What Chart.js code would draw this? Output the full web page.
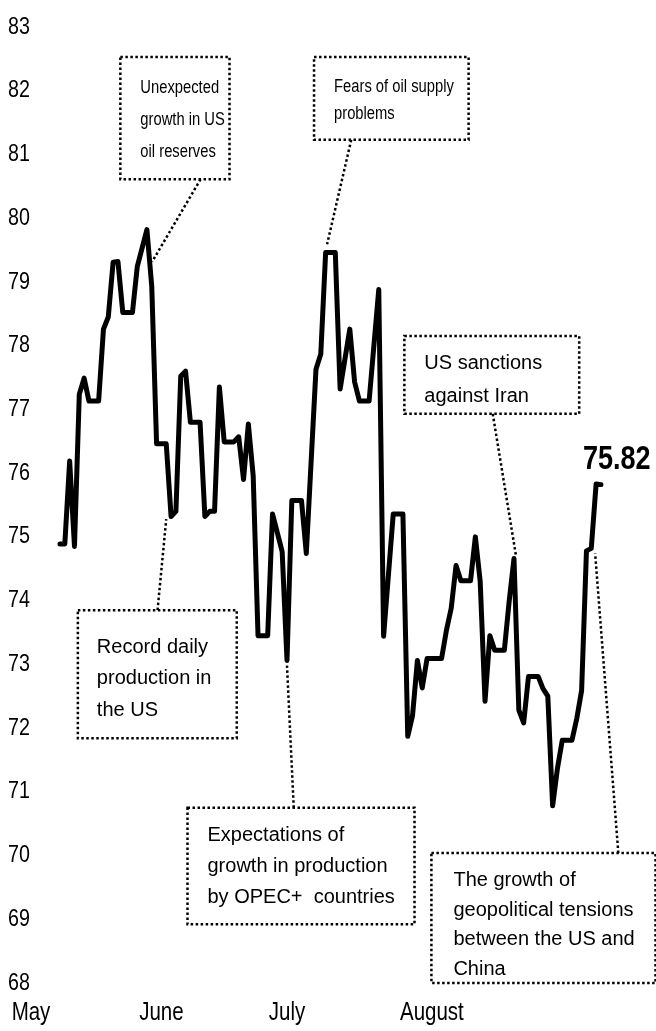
<!DOCTYPE html>
<html>
<head>
  <title>Brent crude, May - August</title>
  <script src="https://cdn.jsdelivr.net/npm/chart.js"></script>
  <style>
    html, body { margin: 0; padding: 0; background: #fff; }
  </style>
</head>
<body>
  <canvas id="oilChart" width="656" height="1031"></canvas>

  <script>
    // day offsets from the first point, and the price on that day (vertices of the line)
    var days = [0, 1, 2, 3, 4, 5, 6, 8, 9, 10, 11, 12, 13, 15, 16, 18, 19, 20, 22, 23, 24, 25, 26, 27, 29,
      30, 31, 32, 33, 34, 36, 37, 38, 39, 40, 41, 43, 44, 46, 47, 48, 50, 51, 53, 54, 55, 57, 58, 60,
      61, 62, 64, 66, 67, 69, 71, 72, 73, 74, 75, 76, 79, 80, 81, 82, 83, 85, 86, 87, 88, 89, 90, 92,
      93, 94, 95, 96, 97, 99, 100, 101, 102, 103, 104, 106, 107, 108, 109, 110, 111, 112];
    var prices = [74.89, 74.89, 76.19, 74.85, 77.24, 77.49, 77.13, 77.13, 78.26, 78.45, 79.31, 79.32, 78.52, 78.52, 79.24, 79.82, 78.93, 76.46, 76.46, 75.32, 75.40, 77.52, 77.60, 76.80, 76.80,
      75.32, 75.40, 75.40, 77.35, 76.49, 76.49, 76.57, 75.90, 76.77, 75.96, 73.45, 73.45, 75.36, 74.77, 73.06, 75.57, 75.57, 74.74, 77.63, 77.87, 79.46, 79.46, 77.32, 78.26,
      77.43, 77.13, 77.13, 78.88, 73.44, 75.36, 75.36, 71.87, 72.20, 73.06, 72.63, 73.09, 73.09, 73.53, 73.88, 74.55, 74.31, 74.31, 75.00, 74.30, 72.42, 73.45, 73.22, 73.22,
      73.99, 74.66, 72.28, 72.08, 72.81, 72.81, 72.62, 72.50, 70.78, 71.37, 71.81, 71.81, 72.15, 72.59, 74.78, 74.82, 75.83, 75.82];

    var monthLabels = ["May", "June", "July", "August"];
    var monthTickDays = [-6, 21, 47, 77];
    var lastLabel = "75.82";

    var FONT = '"Liberation Sans", Arial, sans-serif';
    var NARROW = 0.82; // squeeze text like Arial Narrow

    // text boxes: box and leader given in chart units (day, price)
    var notes = [
      { lines: ["Unexpected", "growth in US", "oil reserves"], narrow: true, size: 18,
        box: [12.5, 82.53, 35.1, 80.61], from: [29.1, 80.61], to: [19.1, 79.32], padX: 20, padTop: 31, lh: 32 },
      { lines: ["Fears of oil supply", "problems"], narrow: true, size: 18,
        box: [52.6, 82.53, 84.6, 81.23], from: [60.3, 81.23], to: [55.3, 79.59], padX: 20, padTop: 30, lh: 27 },
      { lines: ["US sanctions", "against Iran"], narrow: false, size: 20,
        box: [71.3, 78.15, 107.5, 76.93], from: [89.6, 76.93], to: [94.4, 74.71], padX: 20, padTop: 27, lh: 33 },
      { lines: ["Record daily", "production in", "the US"], narrow: false, size: 20,
        box: [3.7, 73.85, 36.6, 71.84], from: [20.2, 73.85], to: [22.0, 75.28], padX: 19, padTop: 37, lh: 31.5 },
      { lines: ["Expectations of", "growth in production", "by OPEC+  countries"], narrow: false, size: 20,
        box: [26.4, 70.75, 73.4, 68.92], from: [48.4, 70.75], to: [47.0, 72.98], padX: 20, padTop: 28, lh: 31 },
      { lines: ["The growth of", "geopolitical tensions", "between the US and", "China"], narrow: false, size: 20,
        box: [76.9, 70.04, 123.3, 68.0], from: [115.6, 70.04], to: [110.8, 74.74], padX: 22, padTop: 28, lh: 29.5 }
    ];

    // every fillText on this chart is squeezed horizontally around its anchor
    var narrowPlugin = {
      id: "narrow",
      beforeInit: function(chart) {
        var ctx = chart.ctx;
        var orig = ctx.fillText;
        ctx.plainFillText = orig;
        ctx.fillText = function(t, x, y) {
          this.save();
          this.translate(x, y);
          this.scale(NARROW, 1);
          orig.call(this, t, 0, 0);
          this.restore();
        };
      }
    };

    var notesPlugin = {
      id: "notes",
      afterDatasetsDraw: function(chart) {
        var ctx = chart.ctx;
        var xs = chart.scales.x, ys = chart.scales.y;
        ctx.save();
        ctx.strokeStyle = "#000";
        ctx.lineWidth = 2.5;
        ctx.setLineDash([2.5, 2.5]);
        notes.forEach(function(n) {
          var l = xs.getPixelForValue(n.box[0]), t = ys.getPixelForValue(n.box[1]);
          var r = xs.getPixelForValue(n.box[2]), b = ys.getPixelForValue(n.box[3]);
          ctx.strokeRect(l, t, r - l, b - t);
          ctx.beginPath();
          ctx.moveTo(xs.getPixelForValue(n.from[0]), ys.getPixelForValue(n.from[1]));
          ctx.lineTo(xs.getPixelForValue(n.to[0]), ys.getPixelForValue(n.to[1]));
          ctx.stroke();
          ctx.fillStyle = "#000";
          ctx.font = n.size + "px " + FONT;
          ctx.textBaseline = "middle";
          ctx.textAlign = "left";
          n.lines.forEach(function(s, i) {
            var y = t + n.padTop + i * n.lh;
            if (n.narrow) ctx.fillText(s, l + n.padX, y);
            else ctx.plainFillText(s, l + n.padX, y);
          });
        });
        ctx.setLineDash([]);
        // value of the last point
        var lx = xs.getPixelForValue(days[days.length - 1]);
        var ly = ys.getPixelForValue(prices[prices.length - 1]);
        ctx.font = "bold 33px " + FONT;
        ctx.textAlign = "left";
        ctx.textBaseline = "alphabetic";
        ctx.fillText(lastLabel, lx - 18, ly - 16);
        ctx.restore();
      }
    };

    var oilChart = new Chart("oilChart", {
      type: "line",
      data: {
        datasets: [{
          data: days.map(function(d, i) { return { x: d, y: prices[i] }; }),
          borderColor: "#000",
          borderWidth: 5,
          borderJoinStyle: "round",
          borderCapStyle: "round",
          pointRadius: 0,
          tension: 0,
          fill: false
        }]
      },
      options: {
        responsive: false,
        animation: false,
        events: [],
        layout: { padding: { left: 0, right: 0, top: 27, bottom: 0 } },
        plugins: { legend: { display: false }, tooltip: { enabled: false } },
        scales: {
          x: {
            type: "linear",
            min: -12.42,
            max: 123.4,
            grid: { display: false, drawTicks: true, tickLength: 12 },
            border: { display: false },
            afterBuildTicks: function(scale) {
              scale.ticks = monthTickDays.map(function(d) { return { value: d }; });
            },
            afterFit: function(scale) {
              scale.paddingLeft = 0;
              scale.paddingRight = 0;
            },
            ticks: {
              padding: 2,
              maxRotation: 0,
              autoSkip: false,
              color: "#000",
              font: { family: FONT, size: 25, lineHeight: 1.28 },
              callback: function(value, index) { return monthLabels[index]; }
            }
          },
          y: {
            min: 68,
            max: 83,
            grid: { display: false, drawTicks: false },
            border: { display: false },
            afterFit: function(scale) {
              scale.width = 0;
            },
            ticks: {
              stepSize: 1,
              mirror: true,
              padding: 8,
              color: "#000",
              font: { family: FONT, size: 24 }
            }
          }
        }
      },
      plugins: [narrowPlugin, notesPlugin]
    });
  </script>
</body>
</html>
